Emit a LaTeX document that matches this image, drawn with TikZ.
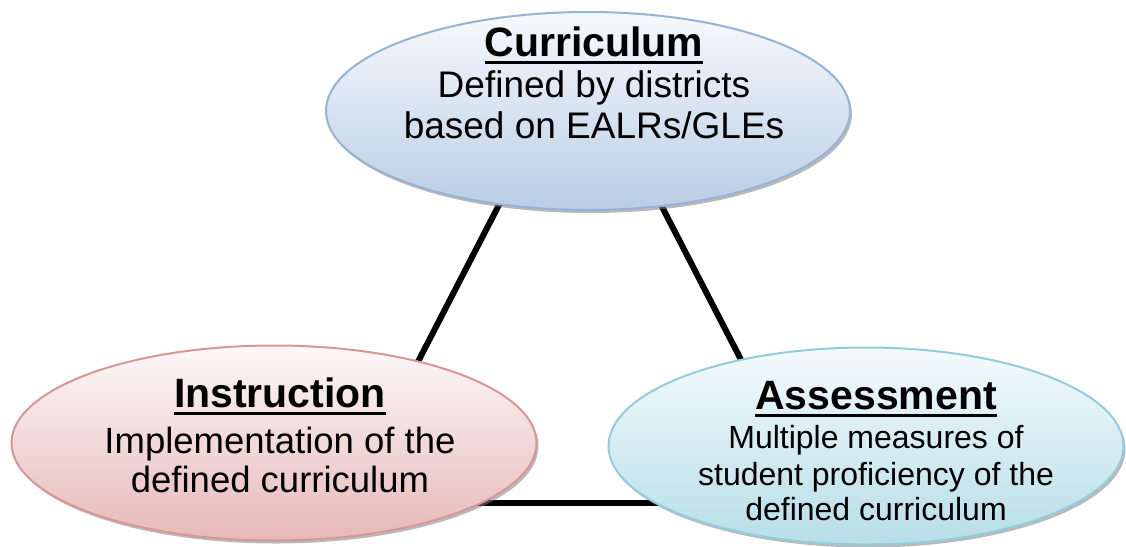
\documentclass[tikz,border=0pt]{standalone}
\usepackage{fontspec}
\setmainfont{Liberation Sans}
\usetikzlibrary{shapes.geometric,shadows}
\definecolor{curTop}{HTML}{F7F9FC}
\definecolor{curBot}{HTML}{B9CDE5}
\definecolor{curLine}{HTML}{95B3D7}
\definecolor{insTop}{HTML}{FDF8F8}
\definecolor{insBot}{HTML}{E6B9B8}
\definecolor{insLine}{HTML}{D99694}
\definecolor{assTop}{HTML}{F4FAFC}
\definecolor{assBot}{HTML}{B7DEE8}
\definecolor{assLine}{HTML}{93CDDD}
\newcommand\hdline[1]{\setbox0\hbox{#1}\rlap{\rule[-7.5pt]{\wd0}{3pt}}\box0}
\tikzset{
  ell/.style={ellipse, inner sep=0pt, line width=2pt,
    drop shadow={shadow xshift=2pt, shadow yshift=-3pt, fill=black!50, opacity=0.55}},
  hd/.style={anchor=base, inner sep=0pt, font=\fontsize{41pt}{48pt}\selectfont\bfseries},
  bdA/.style={anchor=base, inner sep=0pt, font=\fontsize{37pt}{44pt}\selectfont},
  bdB/.style={anchor=base, inner sep=0pt, font=\fontsize{36.5pt}{44pt}\selectfont},
  bdC/.style={anchor=base, inner sep=0pt, font=\fontsize{32pt}{38pt}\selectfont},
  link/.style={line width=6pt, draw=black}
}
\begin{document}
\begin{tikzpicture}[x=1pt,y=-1pt]
\useasboundingbox (0,0) rectangle (1126,546);
% triangle of links (behind ellipses)
\coordinate (apex) at (580,48);
\coordinate (lv) at (345,503);
\coordinate (rv) at (815,503);
\draw[link] (apex) -- (lv);
\draw[link] (apex) -- (rv);
\draw[link] (lv) -- (rv);
% ellipses
\node[ell, minimum width=524pt, minimum height=198pt, top color=curTop, bottom color=curBot, draw=curLine] (cur) at (588,111) {};
\node[ell, minimum width=525pt, minimum height=195pt, top color=insTop, bottom color=insBot, draw=insLine] (ins) at (274,443) {};
\node[ell, minimum width=515pt, minimum height=197pt, top color=assTop, bottom color=assBot, draw=assLine] (ass) at (866,446) {};
% texts
\node[hd] (cur-h) at (594,56) {\hdline{Curriculum}};
\node[bdA] (cur-1) at (594,97) {Defined by districts};
\node[bdA] (cur-2) at (594,138) {based on EALRs/GLEs};
\node[hd] (ins-h) at (280,407) {\hdline{Instruction}};
\node[bdB] (ins-1) at (280,453) {Implementation of the};
\node[bdB] (ins-2) at (280,492) {defined curriculum};
\node[hd] (ass-h) at (876,409) {\hdline{Assessment}};
\node[bdC] (ass-1) at (876,448) {Multiple measures of};
\node[bdC] (ass-2) at (876,485) {student proficiency of the};
\node[bdC] (ass-3) at (876,520) {defined curriculum};
\end{tikzpicture}
\end{document}
